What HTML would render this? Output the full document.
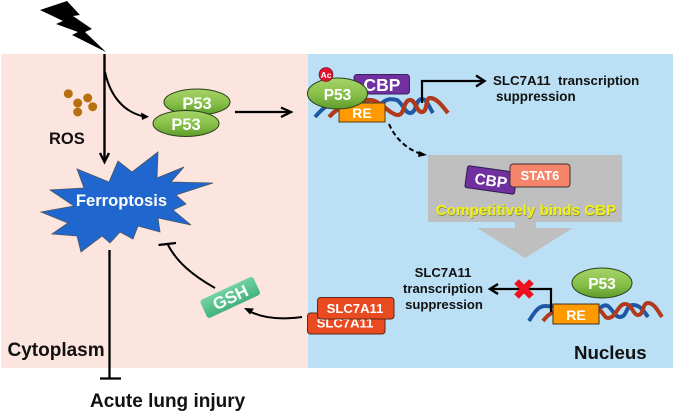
<!DOCTYPE html>
<html>
<head>
<meta charset="utf-8">
<style>
html,body{margin:0;padding:0;background:#fff;width:673px;height:412px;overflow:hidden}
svg{display:block}
text{font-family:"Liberation Sans",sans-serif;font-weight:bold}
</style>
</head>
<body>
<svg width="673" height="412" viewBox="0 0 673 412" xmlns="http://www.w3.org/2000/svg">
<defs>
<linearGradient id="g" x1="0" y1="0" x2="0" y2="1">
<stop offset="0" stop-color="#a6d468"/><stop offset="0.55" stop-color="#86bf48"/><stop offset="1" stop-color="#5f9a2c"/>
</linearGradient>
<linearGradient id="gs" x1="0" y1="0" x2="0" y2="1">
<stop offset="0" stop-color="#72d3a2"/><stop offset="1" stop-color="#43b27c"/>
</linearGradient>
</defs>

<rect x="1" y="54" width="307" height="314" fill="#fce4df"/>
<rect x="308" y="54" width="365" height="314" fill="#bbe0f5"/>

<!-- lightning -->
<polygon points="40,10 67,1 80,15 73,16 92,29 85,32 106,52 72,35 78,32 56,24 63,21" fill="#000"/>

<!-- ROS dots -->
<g fill="#b8700f">
<circle cx="68.300" cy="93.700" r="4.500"/><circle cx="77.700" cy="103" r="4.500"/><circle cx="87.700" cy="98" r="4.500"/><circle cx="92.700" cy="106.700" r="4.500"/><circle cx="77.700" cy="112" r="4.500"/>
</g>
<text x="49" y="144" font-size="16.500" fill="#111">ROS</text>

<!-- arrows from lightning -->
<path d="M104.500 54V161" stroke="#000" stroke-width="2.400" fill="none"/>
<path d="M100 153L104.500 162L109 153" stroke="#000" stroke-width="2.400" fill="none"/>
<path d="M105 72C110 95 123 112 144 116.500" stroke="#000" stroke-width="2" fill="none"/>
<polygon points="149,116.800 141,112.500 142,120" fill="#000"/>

<!-- P53 pair -->
<ellipse cx="197" cy="102" rx="33" ry="13" fill="url(#g)" stroke="#26401a" stroke-width="1"/>
<text x="197" y="109" font-size="16.500" fill="#fff" text-anchor="middle">P53</text>
<ellipse cx="186" cy="123.500" rx="33" ry="13" fill="url(#g)" stroke="#26401a" stroke-width="1"/>
<text x="186" y="130" font-size="16.500" fill="#fff" text-anchor="middle">P53</text>
<path d="M235 112H291" stroke="#000" stroke-width="2.300"/>
<path d="M281 107.500L291 112L281 117" stroke="#000" stroke-width="2.300" fill="none"/>

<!-- star -->
<polygon points="158,152 132,172 118,161 109,182 77,169 84,188 50,190 74,206 41,212 68,223 52,234 77,236 81,252 102,236 110,243 120,232 133,239 138,226 160,232 158,218 191,225 173,210 186,204 176,195 213,183 171,182 184,167 157,178" fill="#2066cf" stroke="#4a5560" stroke-width="0.800"/>
<text x="121.500" y="206" font-size="16.600" fill="#fff" text-anchor="middle">Ferroptosis</text>

<!-- Ferroptosis inhibit -->
<path d="M109.500 250V378" stroke="#000" stroke-width="2.300"/>
<path d="M100 378.500H121" stroke="#000" stroke-width="2.300"/>
<text x="90" y="407" font-size="19" fill="#111">Acute lung injury</text>
<text x="7.500" y="356" font-size="19" fill="#111">Cytoplasm</text>

<!-- GSH -->
<path d="M215 288C192 275 177 262 168 245" stroke="#000" stroke-width="2" fill="none"/>
<path d="M158.500 245L176 243" stroke="#000" stroke-width="2.200"/>
<g transform="rotate(-25 230 297.500)">
<rect x="201" y="287.500" width="58.500" height="20" rx="3" fill="url(#gs)"/>
<text x="230.500" y="303.500" font-size="17" fill="#fff" text-anchor="middle">GSH</text>
</g>
<path d="M302 317C280 320 262 318 249 311" stroke="#000" stroke-width="2" fill="none"/>
<polygon points="244,308 254,308.500 250,314.500" fill="#000"/>

<!-- SLC7A11 pair -->
<rect x="307.500" y="313" width="77.500" height="21" rx="3" fill="#e94a20" stroke="#5c2a18" stroke-width="1"/>
<text x="345" y="327.500" font-size="13.100" fill="#fff" text-anchor="middle">SLC7A11</text>
<rect x="317.500" y="297.500" width="76.500" height="21.500" rx="3" fill="#e94a20" stroke="#5c2a18" stroke-width="1"/>
<text x="355" y="313" font-size="13.100" fill="#fff" text-anchor="middle">SLC7A11</text>

<!-- upper DNA -->
<path d="M315 117C325 105 335 100 345 100S375 108 382 103C388 98 392 99 397 100C403 104 405 113 410 113C417 113 415 99 422 99C427 99 429 107 433 113" stroke="#1f57a6" stroke-width="4" fill="none"/>
<rect x="354" y="74.500" width="55.500" height="19.500" rx="3" fill="#7030a0" stroke="#3c2060" stroke-width="1"/>
<text x="382" y="91" font-size="17.500" fill="#fff" text-anchor="middle">CBP</text>
<path d="M422 103V81H484" stroke="#000" stroke-width="2.200" fill="none"/>
<path d="M476 75.500L484.500 81L476 86.500" stroke="#000" stroke-width="2.400" fill="none"/>
<path d="M329 117C340 105 355 99 370 100C380 100 390 115 398 115C405 115 403 100 410 100C416 100 416 112 422 112C428 112 425 98 430 98C437 98 443 107 448 113" stroke="#b23a1c" stroke-width="4.200" fill="none"/>
<rect x="339" y="103" width="46" height="19" fill="#ff9900" stroke="#5b3a10" stroke-width="1"/>
<text x="362" y="118" font-size="14" fill="#fff" text-anchor="middle">RE</text>
<ellipse cx="337.500" cy="93.500" rx="30" ry="15.500" fill="url(#g)" stroke="#26401a" stroke-width="1"/>
<text x="337.500" y="100" font-size="15.500" fill="#fff" text-anchor="middle">P53</text>
<circle cx="326" cy="74.500" r="7" fill="#e5102a" stroke="#50101a" stroke-width="0.600"/>
<text x="326" y="78" font-size="8.500" fill="#fff" text-anchor="middle">Ac</text>

<text x="493" y="85" font-size="13.300" fill="#111">SLC7A11&#160;&#160;transcription</text>
<text x="496" y="101" font-size="13.400" fill="#111">suppression</text>

<!-- dashed -->
<path d="M389 124C395 138 407 150 422 154" stroke="#000" stroke-width="2" stroke-dasharray="5 3" fill="none"/>
<polygon points="427,155 419,151 418,157" fill="#000"/>

<!-- gray box + arrow -->
<rect x="428" y="155" width="194" height="67" fill="#bfbfbf"/>
<polygon points="515,222 536,222 536,228 573,228 525,258 477,228 515,228" fill="#bfbfbf"/>
<g transform="rotate(8 491 180)">
<rect x="466" y="169" width="50" height="22" rx="2" fill="#7030a0" stroke="#2e1a50" stroke-width="1"/>
<text x="491" y="186" font-size="15.500" fill="#fff" text-anchor="middle">CBP</text>
</g>
<rect x="510" y="164" width="60" height="23" rx="3" fill="#f4846a" stroke="#3c3030" stroke-width="1"/>
<text x="540" y="180" font-size="12.800" fill="#fff" text-anchor="middle">STAT6</text>
<text x="526.500" y="216" font-size="15.200" fill="#8a8a50" text-anchor="middle">Competitively binds CBP</text>
<text x="526" y="215" font-size="15.200" fill="#f2f212" text-anchor="middle">Competitively binds CBP</text>

<!-- lower -->
<text x="443" y="277" font-size="13.100" fill="#111" text-anchor="middle">SLC7A11</text>
<text x="443" y="293" font-size="13.100" fill="#111" text-anchor="middle">transcription</text>
<text x="444" y="309" font-size="13.100" fill="#111" text-anchor="middle">suppression</text>
<path d="M529 321C535 311 539 306 545 306C556 306 590 312 600 308C604 305 605 305 608 306C613 310 615 317 620 317C627 317 626 305 633 305C640 305 644 311 648 317" stroke="#1f57a6" stroke-width="4" fill="none"/>
<path d="M543 321C547 316 550 313 556 311L598 309C603 311 604 318 608 318C616 318 618 304 625 304C632 304 633 315 638 315C644 315 642 303 648 303C654 303 658 311 662 317" stroke="#b23a1c" stroke-width="4" fill="none"/>
<path d="M551 312V289H491" stroke="#000" stroke-width="2.200" fill="none"/>
<path d="M498 284L490 289L498 294" stroke="#000" stroke-width="2.400" fill="none"/>
<path d="M516.500 281.500L531.500 296.500M531.500 281.500L516.500 296.500" stroke="#f01020" stroke-width="6.500"/>
<rect x="553" y="304" width="46" height="20" fill="#ff9900" stroke="#3f3020" stroke-width="1"/>
<text x="576" y="320" font-size="14" fill="#fff" text-anchor="middle">RE</text>
<ellipse cx="602" cy="283" rx="30" ry="15" fill="url(#g)" stroke="#26401a" stroke-width="1"/>
<text x="602" y="289" font-size="15.500" fill="#fff" text-anchor="middle">P53</text>
<text x="574" y="359" font-size="18.700" fill="#111">Nucleus</text>
</svg>
</body>
</html>
